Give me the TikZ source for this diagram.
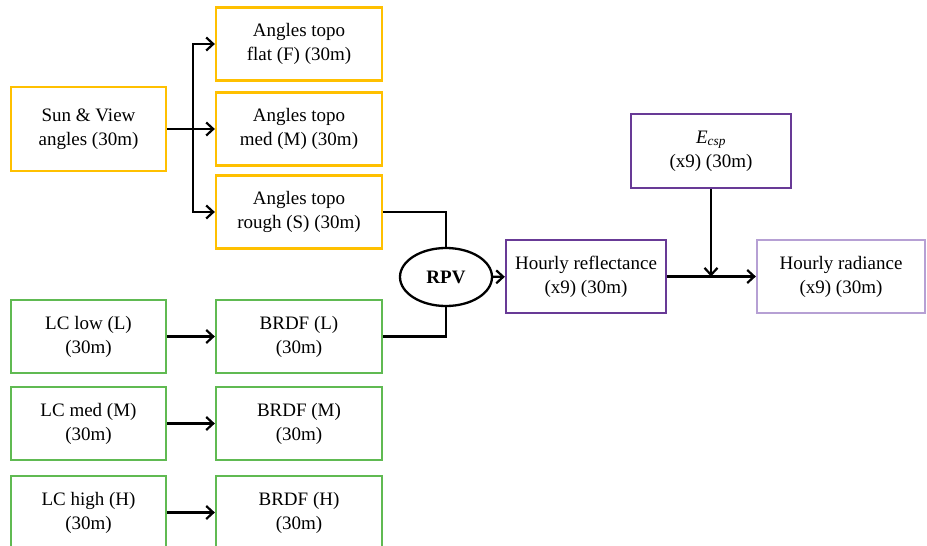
\documentclass[tikz,border=0pt]{standalone}
\usepackage{fontspec}
\setmainfont{Liberation Serif}
\usetikzlibrary{shapes,arrows.meta,positioning,calc}
\definecolor{topoamber}{RGB}{255,192,0}
\definecolor{lcgreen}{RGB}{96,186,82}
\definecolor{radviolet}{RGB}{104,58,150}
\definecolor{radlight}{RGB}{182,160,212}

\begin{document}
\begin{tikzpicture}[
  x=1pt, y=-1pt,
  font=\fontsize{19}{24}\selectfont,
  arrow/.style={-{Straight Barb[length=7pt,width=13pt]}, line width=2.2pt, draw=black},
  link/.style={line width=2.2pt, draw=black},
  box/.style={rectangle, line width=2.3pt, fill=white,
              inner sep=4pt, align=center, minimum height=73pt},
  ybox/.style={box, draw=topoamber, minimum width=166pt},
  gbox/.style={box, draw=lcgreen, minimum width=155pt},
  pbox/.style={box, draw=radviolet, minimum width=160pt},
  lbox/.style={box, draw=radlight, minimum width=168pt}
]
\useasboundingbox (0,0) rectangle (927,546);

% --- Angles ---
\node[ybox, minimum width=155pt, minimum height=84pt] (sun) at (88.5,129) {Sun \& View\\angles (30m)};
\node[ybox] (flat) at (299,44) {Angles topo\\flat (F) (30m)};
\node[ybox] (med) at (299,129) {Angles topo\\med (M) (30m)};
\node[ybox] (rough) at (299,212) {Angles topo\\rough (S) (30m)};

% --- Land cover ---
\node[gbox] (lclow) at (88.5,336.5) {LC low (L)\\(30m)};
\node[gbox] (lcmed) at (88.5,423.5) {LC med (M)\\(30m)};
\node[gbox] (lchigh) at (88.5,512.5) {LC high (H)\\(30m)};
\node[gbox, minimum width=166pt] (brdfl) at (299,336.5) {BRDF (L)\\(30m)};
\node[gbox, minimum width=166pt] (brdfm) at (299,423.5) {BRDF (M)\\(30m)};
\node[gbox, minimum width=166pt] (brdfh) at (299,512.5) {BRDF (H)\\(30m)};

% --- Model + outputs ---
\node[ellipse, draw, line width=2.3pt, minimum width=92pt, minimum height=58pt,
      font=\fontsize{19}{24}\selectfont\bfseries] (rpv) at (446,277) {RPV};
\node[pbox] (refl) at (586,276.5) {Hourly reflectance\\(x9) (30m)};
\node[pbox, minimum height=74pt] (ecsp) at (711,151) {\textit{E}\textsubscript{\textit{csp}}\\(x9) (30m)};
\node[lbox] (rad) at (841,276.5) {Hourly radiance\\(x9) (30m)};

% --- Arrows ---
\draw[link] (sun.east) -- ++(26,0) coordinate (fork);
\draw[arrow] (fork) |- (flat.west);
\draw[arrow] (fork) -- (med.west);
\draw[arrow] (fork) |- (rough.west);
\draw[arrow] (lclow) -- (brdfl);
\draw[arrow] (lcmed) -- (brdfm);
\draw[arrow] (lchigh) -- (brdfh);
\draw[link] (rough.east) -| (rpv.north);
\draw[link] (brdfl.east) -| (rpv.south);
\draw[arrow] (rpv) -- (refl);
\draw[arrow] (refl) -- (rad);
\draw[arrow] (ecsp.south) -- (ecsp.south |- refl.east);

\end{tikzpicture}
\end{document}
